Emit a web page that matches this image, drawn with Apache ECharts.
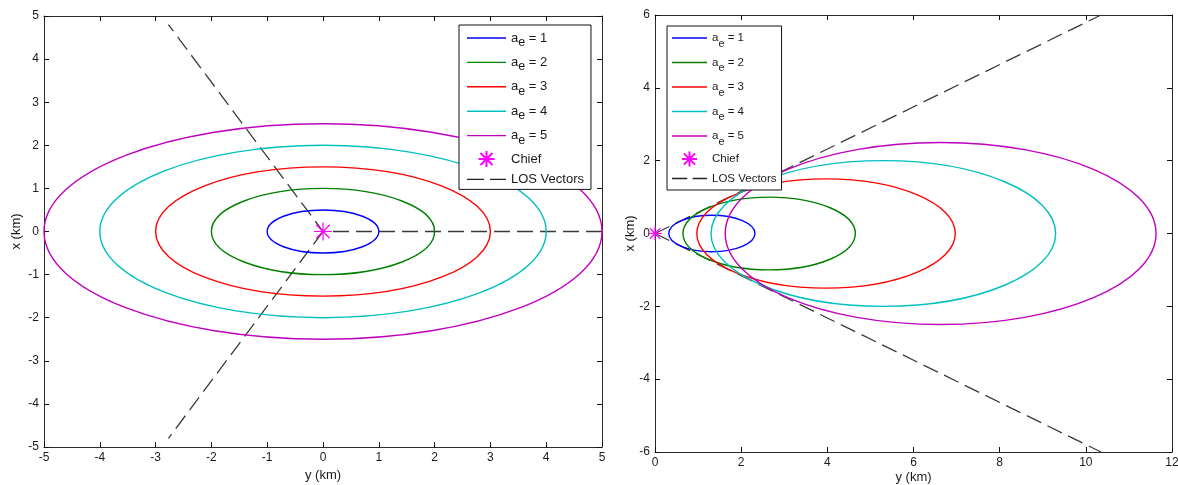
<!DOCTYPE html>
<html>
<head>
<meta charset="utf-8">
<script src="https://cdn.jsdelivr.net/npm/echarts@6/dist/echarts.min.js"></script>
<style>
  html, body { margin: 0; padding: 0; background: #ffffff; }
  #chart { width: 1178px; height: 485px; }
</style>
</head>
<body>
<div id="chart"></div>
<script>
// Relative-orbit ellipses for five along-track amplitudes a_e (km)
const aeValues = [1, 2, 3, 4, 5];
const ellipseColors = ['#0000ff', '#008000', '#ff0000', '#00bfbf', '#bf00bf'];
// Semi-axes of each ellipse: along-track (y) and radial (x), km
const semiAlongTrack = [1, 2, 3, 4, 5];
const semiRadial = [0.5, 1, 1.5, 2, 2.5];
// Along-track centre of each ellipse: centred on the chief, and offset from it
const centreCentred = [0, 0, 0, 0, 0];
const centreOffset = [1.32, 2.65, 3.97, 5.30, 6.63];
// Chief position [y, x]
const chiefPos = [0, 0];
// Line-of-sight vectors, points [y, x] in km
const losCentredA = [[5, 0], [0, 0], [-2.77, 4.8]];
const losCentredB = [[0, 0], [-2.77, -4.8]];
const losOffsetA = [[0, 0], [10.35, 6]];
const losOffsetB = [[0, 0], [10.35, -6]];
// Axis ranges and tick steps
const leftYRange = [-5, 5, 1];
const leftXRange = [-5, 5, 1];
const rightYRange = [0, 12, 2];
const rightXRange = [-6, 6, 2];

const FONT = '"Liberation Sans", Arial, sans-serif';
const TXT = '#1a1a1a';
const LOS_STYLE = { color: '#3a3a3a', width: 1.3, type: [16, 7] };
const ASTERISK = 'path://M0,-10 L0,10 M-10,0 L10,0 M-7.5,-7.5 L7.5,7.5 M-7.5,7.5 L7.5,-7.5';

const chart = echarts.init(document.getElementById('chart'), null, { renderer: 'canvas' });

function valueAxis(range, gridIndex, position, showLabels, nameText, nameGap) {
  return {
    type: 'value', gridIndex, position,
    min: range[0], max: range[1], interval: range[2],
    name: nameText || '', nameLocation: 'middle', nameGap: nameGap || 0,
    nameMoveOverlap: false,
    nameRotate: (position === 'left') ? 90 : 0,
    nameTextStyle: { fontFamily: FONT, fontSize: 13, color: TXT },
    axisLine: { show: true, onZero: false, lineStyle: { color: '#2b2b2b', width: 1 } },
    axisTick: { show: true, inside: true, length: 5, lineStyle: { color: '#111', width: 1 } },
    axisLabel: { show: showLabels, fontFamily: FONT, fontSize: 12, color: TXT, margin: 5 },
    splitLine: { show: false }
  };
}

function renderEllipse(params, api) {
  const c = api.coord([api.value(0), api.value(1)]);
  const s = api.size([api.value(2), api.value(3)]);
  return {
    type: 'ellipse',
    shape: { cx: c[0], cy: c[1], rx: s[0], ry: s[1] },
    style: { fill: 'none', stroke: api.visual('color'), lineWidth: 1.4 },
    silent: true
  };
}

function ellipseSeries(centres, gridIdx) {
  return aeValues.map((ae, i) => ({
    type: 'custom',
    name: 'ae = ' + ae,
    xAxisIndex: gridIdx * 2,
    yAxisIndex: gridIdx * 2,
    renderItem: renderEllipse,
    itemStyle: { color: ellipseColors[i] },
    encode: { x: 0, y: 1 },
    data: [[centres[i], 0, semiAlongTrack[i], semiRadial[i]]],
    z: 3
  }));
}

function losSeries(points, gridIdx) {
  return {
    type: 'line', name: 'LOS Vectors',
    xAxisIndex: gridIdx * 2, yAxisIndex: gridIdx * 2,
    data: points, symbol: 'none', showSymbol: false,
    lineStyle: LOS_STYLE, itemStyle: { color: LOS_STYLE.color },
    silent: true, animation: false, z: 2
  };
}

function chiefSeries(gridIdx, size) {
  return {
    type: 'scatter', name: 'Chief',
    xAxisIndex: gridIdx * 2, yAxisIndex: gridIdx * 2,
    data: [chiefPos], symbol: ASTERISK, symbolSize: size, symbolKeepAspect: true,
    itemStyle: { color: '#ff00ff', borderColor: '#ff00ff', borderWidth: 1.2, opacity: 1 },
    clip: false, silent: true, z: 5
  };
}

// Legend samples: a solid stroke and a two-dash stroke, padded to the item height
const solidIcon = 'path://M0,-8 M0,8 M0,-0.7 H39 V0.7 H0 Z';
const dashIcon = 'path://M0,-8 M0,8 M0,-0.7 H17 V0.7 H0 Z M23,-0.7 H39 V0.7 H23 Z';

function legendFor(cfg) {
  const data = aeValues.map(ae => ({ name: 'ae = ' + ae, icon: solidIcon }));
  data.push({ name: 'Chief', textStyle: { lineHeight: cfg.chiefLine } });
  data.push({ name: 'LOS Vectors', icon: dashIcon, itemStyle: { color: '#222' } });
  return {
    orient: 'vertical', left: cfg.left, top: cfg.top,
    itemWidth: cfg.itemWidth, itemHeight: cfg.itemHeight, itemGap: cfg.gap,
    padding: cfg.padding, backgroundColor: '#ffffff',
    borderColor: '#111', borderWidth: 1,
    selectedMode: false,
    data,
    formatter: function (name) {
      if (name.indexOf('ae = ') === 0) {
        return '{m|a}{s|e}{m|' + name.slice(2) + '}';
      }
      return name;
    },
    textStyle: {
      fontFamily: FONT, fontSize: cfg.fontSize, color: TXT, lineHeight: cfg.itemHeight,
      rich: {
        m: { fontFamily: FONT, fontSize: cfg.fontSize, color: TXT, lineHeight: cfg.rowLine },
        s: { fontFamily: FONT, fontSize: cfg.subSize, color: TXT, lineHeight: cfg.subLine, verticalAlign: 'bottom' }
      }
    }
  };
}

const option = {
  animation: false,
  backgroundColor: '#ffffff',
  grid: [
    { left: 44, top: 16, width: 558, height: 431, containLabel: false, outerBoundsMode: 'none' },
    { left: 655, top: 15, width: 517, height: 437, containLabel: false, outerBoundsMode: 'none' }
  ],
  xAxis: [
    valueAxis(leftYRange, 0, 'bottom', true, 'y (km)', 22),
    valueAxis(leftYRange, 0, 'top', false),
    valueAxis(rightYRange, 1, 'bottom', true, 'y (km)', 19),
    valueAxis(rightYRange, 1, 'top', false)
  ],
  yAxis: [
    valueAxis(leftXRange, 0, 'left', true, 'x (km)', 21),
    valueAxis(leftXRange, 0, 'right', false),
    valueAxis(rightXRange, 1, 'left', true, 'x (km)', 18),
    valueAxis(rightXRange, 1, 'right', false)
  ],
  legend: [
    legendFor({ left: 459, top: 25, itemWidth: 39, itemHeight: 16, gap: 2.4, padding: [2, 7, 2, 8],
                fontSize: 13, subSize: 12.5, rowLine: 22, subLine: 10, chiefLine: 20 }),
    legendFor({ left: 667, top: 26, itemWidth: 35, itemHeight: 15, gap: 2.5, padding: [1, 5, 4, 5],
                fontSize: 11.5, subSize: 11, rowLine: 22, subLine: 9, chiefLine: 19 })
  ],
  series: [
    ...ellipseSeries(centreCentred, 0),
    losSeries(losCentredA, 0),
    losSeries(losCentredB, 0),
    chiefSeries(0, 18),
    ...ellipseSeries(centreOffset, 1),
    losSeries(losOffsetA, 1),
    losSeries(losOffsetB, 1),
    chiefSeries(1, 14)
  ]
};

chart.setOption(option);
</script>
</body>
</html>
